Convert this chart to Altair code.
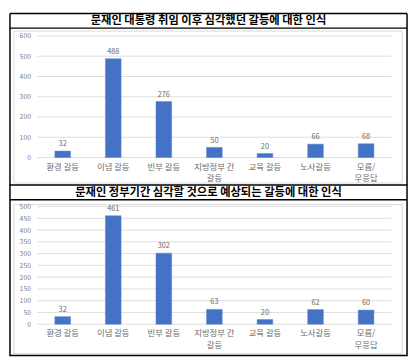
import altair as alt
import pandas as pd

categories = ["환경 갈등", "이념 갈등", "빈부 갈등", "지방정부 간 갈등", "교육 갈등", "노사갈등", "모름/무응답"]
values_after = [32, 488, 276, 50, 20, 66, 68]
values_expected = [32, 461, 302, 63, 20, 62, 60]
title_after = "문재인 대통령 취임 이후 심각했던 갈등에 대한 인식"
title_expected = "문재인 정부기간 심각할 것으로 예상되는 갈등에 대한 인식"
ticks_after = [0, 100, 200, 300, 400, 500, 600]
ticks_expected = [0, 50, 100, 150, 200, 250, 300, 350, 400, 450, 500]

FONT = "Noto Sans CJK KR"
BLUE = "#4472C4"
GRAY = "#6b6b6b"
W = 361
LEFT, RIGHT = -28, 377

label_expr = ("datum.label == '지방정부 간 갈등' ? ['지방정부 간', '갈등'] : "
              "datum.label == '모름/무응답' ? ['모름/', '무응답'] : datum.label")


def panel(values, ticks, title, ymax, plot_h, top_pad, sep, bottom_pad, full_frame, inner_gap):
    df = pd.DataFrame({"category": categories, "value": values})
    tdf = pd.DataFrame({"value": ticks})
    one = pd.DataFrame({"t": [title]})
    top = -top_pad
    bottom = plot_h + bottom_pad

    x = alt.X("category:N", sort=categories,
              scale=alt.Scale(paddingInner=0.69, paddingOuter=0.345),
              axis=alt.Axis(title=None, labelExpr=label_expr, labelAngle=0,
                            labelFont=FONT, labelFontSize=8.5, labelColor=GRAY,
                            domain=False, ticks=False, labelPadding=5,
                            labelLineHeight=11.5, grid=False, zindex=2))
    yscale = alt.Scale(domain=[0, ymax], nice=False)
    y = alt.Y("value:Q", scale=yscale,
              axis=alt.Axis(title=None, values=ticks, grid=False, domain=False,
                            ticks=False, labelFontSize=7, labelColor="#808080",
                            labelPadding=7, labelFont=FONT, zindex=2,
                            labelOverlap=False))

    inner = alt.Chart(one).mark_rect(fill="white", stroke="#D9D9D9", strokeWidth=1).encode(
        x=alt.value(LEFT + 4), x2=alt.value(RIGHT - 5),
        y=alt.value(sep + inner_gap), y2=alt.value(bottom - 2))
    grid = alt.Chart(tdf).mark_rule(color="#DDDDDD", strokeWidth=1).encode(
        y=y, x=alt.value(0), x2=alt.value(W))
    bars = alt.Chart(df).mark_bar(color=BLUE, stroke="#5B86D0", strokeWidth=0.5).encode(x=x, y=y)
    labels = alt.Chart(df).mark_text(baseline="bottom", dy=-3, fontSize=7.5, color=GRAY, font=FONT).encode(
        x=x, y=y, text="value:Q")
    title_txt = alt.Chart(one).mark_text(fontSize=11.5, fontWeight="bold", color="black",
                                         font=FONT, baseline="middle", align="center").encode(
        x=alt.value((LEFT + RIGHT) / 2), y=alt.value((top + sep) / 2 + 0.5), text="t:N")
    sep_rule = alt.Chart(one).mark_rule(color="black", strokeWidth=1.5).encode(
        x=alt.value(LEFT), x2=alt.value(RIGHT), y=alt.value(sep))
    if full_frame:
        frame = alt.Chart(one).mark_rect(fillOpacity=0, stroke="black", strokeWidth=1.5).encode(
            x=alt.value(LEFT), x2=alt.value(RIGHT), y=alt.value(top), y2=alt.value(bottom))
        frames = [frame]
    else:
        frames = [
            alt.Chart(one).mark_rule(color="black", strokeWidth=1.5).encode(
                x=alt.value(LEFT), x2=alt.value(RIGHT), y=alt.value(top)),
            alt.Chart(one).mark_rule(color="black", strokeWidth=1.5).encode(
                x=alt.value(LEFT), y=alt.value(top), y2=alt.value(bottom)),
            alt.Chart(one).mark_rule(color="black", strokeWidth=1.5).encode(
                x=alt.value(RIGHT), y=alt.value(top), y2=alt.value(bottom)),
        ]
    return alt.layer(inner, grid, bars, labels, title_txt, sep_rule, *frames).properties(
        width=W, height=plot_h)


P1_H, P1_TOP, P1_BOT = 124, 23, 28
P2_H, P2_TOP, P2_BOT = 120, 22, 32
p1 = panel(values_after, ticks_after, title_after, 600, P1_H, P1_TOP, -8, P1_BOT, False, 3)
p2 = panel(values_expected, ticks_expected, title_expected, 500, P2_H, P2_TOP, -7, P2_BOT, True, 5)

chart = alt.vconcat(p1, p2, spacing=P1_BOT + P2_TOP, bounds="flush").configure_view(
    stroke=None).configure(padding=0, background="white")

chart.save("out.html", embed_options={"renderer": "svg", "actions": False})
